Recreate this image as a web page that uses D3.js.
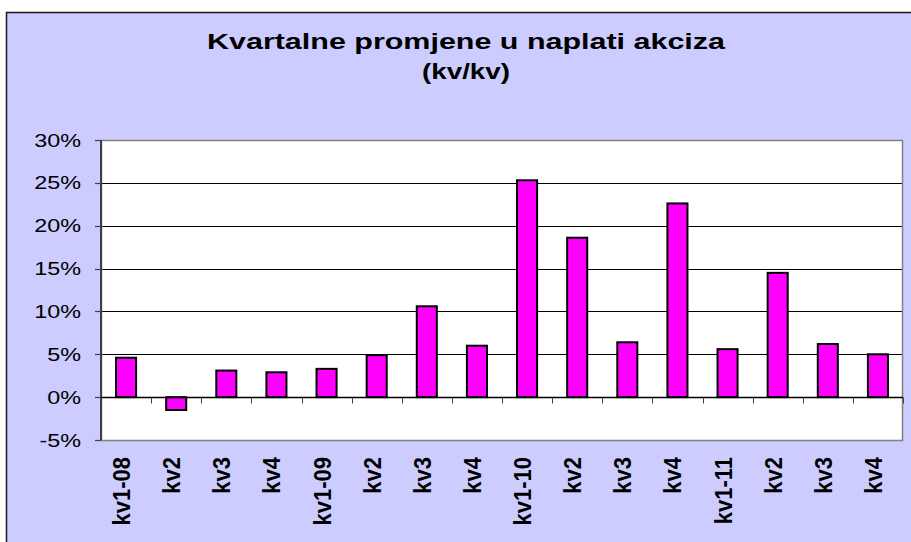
<!DOCTYPE html>
<html>
<head>
<meta charset="utf-8">
<script src="https://cdn.jsdelivr.net/npm/d3@7/dist/d3.min.js"></script>
<style>
  html, body { margin: 0; padding: 0; background: #ffffff; }
  svg { display: block; }
  text { font-family: Arial, "Liberation Sans", sans-serif; fill: #000; }
</style>
</head>
<body>
<svg id="chart" width="911" height="542"></svg>
<script>
// ---- data ----
const categories = ["kv1-08","kv2","kv3","kv4","kv1-09","kv2","kv3","kv4","kv1-10","kv2","kv3","kv4","kv1-11","kv2","kv3","kv4"];
const values = [4.6, -1.5, 3.1, 2.9, 3.3, 4.9, 10.6, 6.0, 25.3, 18.6, 6.4, 22.6, 5.6, 14.5, 6.2, 5.0];
const yTicks = [-5, 0, 5, 10, 15, 20, 25, 30];
const titleLines = ["Kvartalne promjene u naplati akciza", "(kv/kv)"];

// ---- layout ----
const svg = d3.select("#chart");
const W = 911, H = 542;
const plot = { left: 101, right: 903, top: 140, bottom: 440 };

// chart area background + border
svg.append("rect")
  .attr("x", 6.5).attr("y", 12.5)
  .attr("width", W + 20).attr("height", H + 20)
  .attr("fill", "#CCCCFF")
  .attr("stroke", "#1a1a1a").attr("stroke-width", 1.5);

// plot area
svg.append("rect")
  .attr("x", plot.left).attr("y", plot.top)
  .attr("width", plot.right - plot.left).attr("height", plot.bottom - plot.top)
  .attr("fill", "#ffffff");

const x = d3.scaleBand()
  .domain(d3.range(categories.length))
  .range([plot.left, plot.right])
  .padding(0);

const y = d3.scaleLinear().domain([-5, 30]).range([plot.bottom, plot.top]);

// gridlines
svg.append("g").selectAll("line")
  .data(yTicks.filter(t => t !== -5 && t !== 30 && t !== 0))
  .join("line")
  .attr("x1", plot.left).attr("x2", plot.right)
  .attr("y1", d => Math.round(y(d)) + 0.5).attr("y2", d => Math.round(y(d)) + 0.5)
  .attr("stroke", "#000").attr("stroke-width", 1);

// plot border (gray)
svg.append("rect")
  .attr("x", plot.left + 0.5).attr("y", plot.top + 0.5)
  .attr("width", plot.right - plot.left - 1).attr("height", plot.bottom - plot.top)
  .attr("fill", "none").attr("stroke", "#808080").attr("stroke-width", 1.5);

// y axis
const yAxis = svg.append("g").attr("transform", `translate(${plot.left},0)`);
yAxis.append("line")
  .attr("x1", 0).attr("x2", 0)
  .attr("y1", plot.top).attr("y2", plot.bottom)
  .attr("stroke", "#404040").attr("stroke-width", 2);
yAxis.selectAll("line.tick")
  .data(yTicks).join("line").attr("class", "tick")
  .attr("x1", -6).attr("x2", 0)
  .attr("y1", d => Math.round(y(d)) + 0.5).attr("y2", d => Math.round(y(d)) + 0.5)
  .attr("stroke", "#404040").attr("stroke-width", 1.2);
yAxis.selectAll("text")
  .data(yTicks).join("text")
  .attr("transform", d => `translate(-20,${y(d) + 6.5}) scale(1.3,1)`)
  .attr("text-anchor", "end")
  .attr("font-size", "18px")
  .text(d => d + "%");

// bars
const barFrac = 0.4;
svg.append("g").selectAll("rect")
  .data(values)
  .join("rect")
  .attr("x", (d, i) => x(i) + x.bandwidth() * (1 - barFrac) / 2)
  .attr("width", x.bandwidth() * barFrac)
  .attr("y", d => y(Math.max(0, d)))
  .attr("height", d => Math.abs(y(d) - y(0)))
  .attr("fill", "#FF00FF")
  .attr("stroke", "#000").attr("stroke-width", 2);

// x axis at zero
const zeroY = Math.round(y(0)) + 0.5;
svg.append("line")
  .attr("x1", plot.left).attr("x2", plot.right)
  .attr("y1", zeroY).attr("y2", zeroY)
  .attr("stroke", "#000").attr("stroke-width", 1.5);
svg.append("g").selectAll("line")
  .data(d3.range(1, categories.length + 1))
  .join("line")
  .attr("x1", i => Math.round(x(i - 1) + x.bandwidth()) + 0.5)
  .attr("x2", i => Math.round(x(i - 1) + x.bandwidth()) + 0.5)
  .attr("y1", zeroY).attr("y2", zeroY + 6)
  .attr("stroke", "#404040").attr("stroke-width", 1);

// x labels
svg.append("g").selectAll("text")
  .data(categories)
  .join("text")
  .attr("transform", (d, i) => `translate(${x(i) + x.bandwidth() / 2 + 4},457) rotate(-90) scale(1,1.08)`)
  .attr("text-anchor", "end")
  .attr("font-size", "22px")
  .attr("font-weight", "bold")
  .text(d => d);

// title
const titleSpec = [
  { y: 49, len: 518 },
  { y: 79, len: 88 }
];
svg.append("g").selectAll("text")
  .data(titleLines)
  .join("text")
  .attr("x", 466)
  .attr("y", (d, i) => titleSpec[i].y)
  .attr("text-anchor", "middle")
  .attr("font-size", "22px")
  .attr("font-weight", "bold")
  .attr("textLength", (d, i) => titleSpec[i].len)
  .attr("lengthAdjust", "spacingAndGlyphs")
  .text(d => d);
</script>
</body>
</html>
